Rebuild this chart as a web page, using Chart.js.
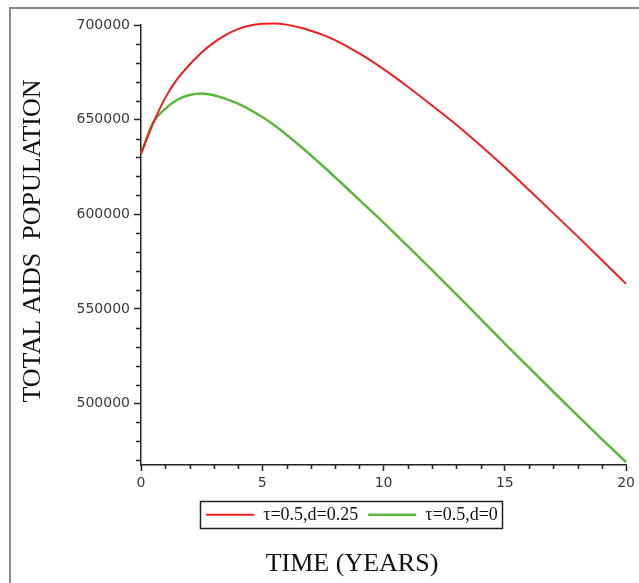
<!DOCTYPE html>
<html>
<head>
<meta charset="utf-8">
<script src="https://cdn.jsdelivr.net/npm/chart.js@4.4.1/dist/chart.umd.min.js"></script>
<style>
  html, body { margin: 0; padding: 0; background: #fff; }
  #wrap { position: relative; width: 639px; height: 583px; overflow: hidden; }
  #frame {
    position: absolute; left: 9px; top: 7px; width: 700px; height: 700px;
    border-left: 2px solid #8a8a8a; border-top: 2px solid #8a8a8a;
  }
  #aidsChart { position: absolute; left: 0; top: 0; }
</style>
</head>
<body>
<div id="wrap">
  <div id="frame"></div>
  <canvas id="aidsChart" width="639" height="583"></canvas>
</div>
<script>
// time in years
const timeYears = [0, 0.5, 1, 1.5, 2, 2.5, 3, 3.5, 4, 4.5, 5, 5.5, 6, 6.5, 7, 7.5, 8,
  9, 10, 11, 12, 13, 14, 15, 16, 17, 18, 19, 20];

// tau=0.5, d=0.25
const aidsD025 = [632000, 648000, 661500, 671500, 679000, 685500, 690700, 694800, 697800,
  699700, 700600, 700800, 700200, 698800, 697000, 694800, 692000,
  685000, 676700, 667400, 657500, 647300, 636300, 624800, 612800, 600600, 588300, 575800, 563200];

// tau=0.5, d=0
const aidsD0 = [632000, 648500, 655700, 660500, 663000, 663800, 662900, 661000, 658400,
  655200, 651400, 647000, 642000, 636700, 631200, 625500, 619600,
  607600, 595600, 583100, 570500, 557700, 544700, 531700, 518900, 506200, 493600, 481200, 469000];

const seriesLabels = ['\u03c4=0.5,d=0.25', '\u03c4=0.5,d=0'];
const xTicks = [0, 5, 10, 15, 20];
const yTicks = [500000, 550000, 600000, 650000, 700000];
const xMinor = [1, 2, 3, 4, 6, 7, 8, 9, 11, 12, 13, 14, 16, 17, 18, 19];
const yMinor = [470000, 480000, 490000, 510000, 520000, 530000, 540000, 560000, 570000, 580000,
  590000, 610000, 620000, 630000, 640000, 660000, 670000, 680000, 690000];

const toPoints = (vals) => vals.map((v, i) => ({ x: timeYears[i], y: v }));

// minor ticks, y axis title and legend frame
const extras = {
  id: 'extras',
  afterDraw: (chart) => {
    const { ctx, chartArea, scales } = chart;
    const x = scales.x, y = scales.y;
    ctx.save();
    ctx.strokeStyle = '#222';
    ctx.lineWidth = 1.5;
    ctx.beginPath();
    xMinor.forEach(v => {
      const px = Math.round(x.getPixelForValue(v)) + 0.5;
      ctx.moveTo(px, chartArea.bottom);
      ctx.lineTo(px, chartArea.bottom + 4);
    });
    yMinor.forEach(v => {
      const py = Math.round(y.getPixelForValue(v)) + 0.5;
      ctx.moveTo(chartArea.left, py);
      ctx.lineTo(chartArea.left - 5, py);
    });
    ctx.stroke();

    // y axis title
    ctx.fillStyle = '#111';
    ctx.font = '26px "Liberation Serif", "Times New Roman", serif';
    ctx.textAlign = 'center';
    ctx.textBaseline = 'middle';
    ctx.translate(33, (chartArea.top + chartArea.bottom) / 2 - 4);
    ctx.rotate(-Math.PI / 2);
    ctx.fillText('TOTAL AIDS  POPULATION', 0, 0);
    ctx.restore();

    // box around legend
    const boxes = chart.legend.legendHitBoxes;
    if (boxes && boxes.length) {
      const left = Math.min(...boxes.map(b => b.left)) - 6;
      const right = Math.max(...boxes.map(b => b.left + b.width)) + 4;
      const top = Math.min(...boxes.map(b => b.top)) - 5;
      const bottom = Math.max(...boxes.map(b => b.top + b.height)) + 4;
      ctx.save();
      ctx.strokeStyle = '#222';
      ctx.lineWidth = 1.5;
      ctx.strokeRect(Math.round(left) + 0.5, Math.round(top) + 0.5, Math.round(right - left), Math.round(bottom - top));
      ctx.restore();
    }
  }
};

new Chart(document.getElementById('aidsChart').getContext('2d'), {
  type: 'line',
  data: {
    datasets: [
      {
        label: seriesLabels[0],
        data: toPoints(aidsD025),
        borderColor: '#f01e1e',
        backgroundColor: '#f01e1e',
        borderWidth: 2,
        pointRadius: 0,
        pointStyle: 'line',
        cubicInterpolationMode: 'monotone',
        fill: false,
        clip: false
      },
      {
        label: seriesLabels[1],
        data: toPoints(aidsD0),
        borderColor: '#5cb83c',
        backgroundColor: '#5cb83c',
        borderWidth: 2.5,
        pointRadius: 0,
        pointStyle: 'line',
        cubicInterpolationMode: 'monotone',
        fill: false,
        clip: false
      }
    ]
  },
  options: {
    responsive: false,
    animation: false,
    layout: { padding: { left: 75, right: 10, top: 25, bottom: 3 } },
    plugins: {
      legend: {
        display: true,
        position: 'bottom',
        labels: {
          usePointStyle: true,
          pointStyleWidth: 48,
          padding: 10,
          color: '#111',
          font: { family: '"Liberation Serif", "Times New Roman", serif', size: 18 }
        }
      },
      title: {
        display: true,
        position: 'bottom',
        text: 'TIME (YEARS)',
        color: '#111',
        font: { family: '"Liberation Serif", "Times New Roman", serif', size: 26, weight: 'normal' },
        padding: { top: 15, bottom: 0 }
      },
      tooltip: { enabled: false }
    },
    scales: {
      x: {
        type: 'linear',
        min: 0,
        max: 20,
        afterBuildTicks: (scale) => { scale.ticks = xTicks.map(v => ({ value: v })); },
        grid: { drawOnChartArea: false, tickLength: 6, tickColor: '#222', tickWidth: 1.5 },
        border: { color: '#222', width: 1.5 },
        ticks: {
          color: '#3a3a3a',
          padding: 4,
          maxRotation: 0,
          font: { family: '"DejaVu Sans", sans-serif', size: 14 }
        }
      },
      y: {
        type: 'linear',
        min: 467500,
        max: 700000,
        afterBuildTicks: (scale) => { scale.ticks = yTicks.map(v => ({ value: v })); },
        afterFit: (scale) => { scale.width = 66; },
        grid: { drawOnChartArea: false, tickLength: 7, tickColor: '#222', tickWidth: 1.5 },
        border: { color: '#222', width: 1.5 },
        ticks: {
          color: '#3a3a3a',
          padding: 4,
          font: { family: '"DejaVu Sans", sans-serif', size: 14 },
          callback: (v) => String(v)
        }
      }
    }
  },
  plugins: [extras]
});
</script>
</body>
</html>
